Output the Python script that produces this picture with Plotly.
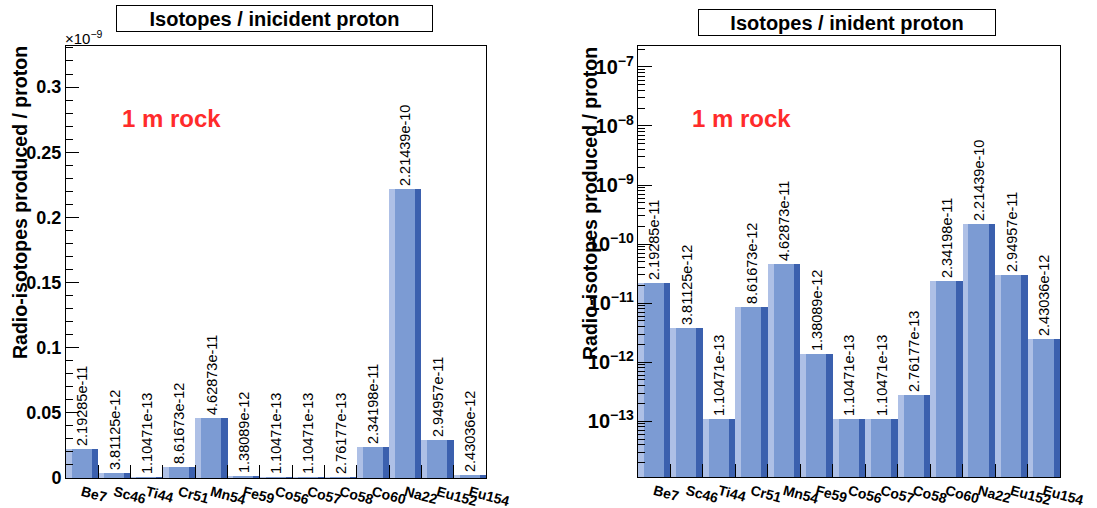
import plotly.graph_objects as go

# Isotope yields per incident proton behind 1 m of rock
isotopes = ["Be7", "Sc46", "Ti44", "Cr51", "Mn54", "Fe59", "Co56",
            "Co57", "Co58", "Co60", "Na22", "Eu152", "Eu154"]
yields = [2.19285e-11, 3.81125e-12, 1.10471e-13, 8.61673e-12, 4.62873e-11,
          1.38089e-12, 1.10471e-13, 1.10471e-13, 2.76177e-13, 2.34198e-11,
          2.21439e-10, 2.94957e-11, 2.43036e-12]

lin_ticks = [0, 0.05e-9, 0.1e-9, 0.15e-9, 0.2e-9, 0.25e-9, 0.3e-9]
lin_ticktext = ["0", "0.05", "0.1", "0.15", "0.2", "0.25", "0.3"]

W, H = 1097, 508
FONT = "Liberation Sans, Arial, sans-serif"
C_LIGHT, C_MID, C_DARK = "#aec0e6", "#7c9bd3", "#3b60ae"

labels = [f"{v:.6g}" for v in yields]

fig = go.Figure()


def add_bars(xa, ya):
    # main body of each bin, with its value printed above it
    fig.add_trace(go.Bar(
        x=isotopes, y=yields, xaxis=xa, yaxis=ya,
        offset=-0.5, width=1.0, marker=dict(color=C_MID, line=dict(width=0), opacity=1),
        text=labels, textposition="outside", textangle=-90, constraintext="none",
        textfont=dict(family=FONT, size=14.5, color="black"), cliponaxis=False,
        hoverinfo="skip", showlegend=False))
    # highlighted left edge
    fig.add_trace(go.Bar(
        x=isotopes, y=yields, xaxis=xa, yaxis=ya,
        offset=-0.5, width=0.18, marker=dict(color=C_LIGHT, line=dict(width=0), opacity=1),
        hoverinfo="skip", showlegend=False))
    # shaded right edge
    fig.add_trace(go.Bar(
        x=isotopes, y=yields, xaxis=xa, yaxis=ya,
        offset=0.3, width=0.2, marker=dict(color=C_DARK, line=dict(width=0), opacity=1),
        hoverinfo="skip", showlegend=False))


add_bars("x", "y")
add_bars("x2", "y2")

xcommon = dict(
    type="category", categoryorder="array", categoryarray=isotopes,
    range=[-0.5, len(isotopes) - 0.5], tickson="boundaries",
    ticks="inside", ticklen=13, tickcolor="black", tickangle=15,
    tickfont=dict(family=FONT, size=14, color="black", weight="bold"),
    showline=True, linecolor="black", linewidth=1, mirror=True,
    showgrid=False, zeroline=False, fixedrange=True, automargin=False,
)

fig.update_layout(
    width=W, height=H,
    margin=dict(l=0, r=0, t=0, b=0, autoexpand=False),
    paper_bgcolor="white", plot_bgcolor="white",
    barmode="overlay", bargap=0,
    xaxis=dict(domain=[66 / W, 486 / W], anchor="y", **xcommon),
    xaxis2=dict(domain=[638 / W, 1060 / W], anchor="y2", **xcommon),
    yaxis=dict(
        domain=[30 / H, 462 / H], anchor="x",
        range=[0, 0.3315e-9], tickvals=lin_ticks, ticktext=lin_ticktext,
        ticks="inside", ticklen=13, tickcolor="black",
        minor=dict(ticks="inside", ticklen=7, dtick=0.01e-9, tick0=0, tickcolor="black"),
        tickfont=dict(family=FONT, size=18, color="black", weight="bold"),
        showline=True, linecolor="black", linewidth=1, mirror=True,
        showgrid=False, zeroline=False, fixedrange=True, automargin=False,
    ),
    yaxis2=dict(
        domain=[31 / H, 462 / H], anchor="x2",
        type="log", range=[-13.944, -6.646], dtick=1, exponentformat="power",
        ticks="inside", ticklen=14, tickcolor="black", ticklabelstandoff=0,
        minor=dict(ticks="inside", ticklen=7, dtick="D1", tickcolor="black"),
        tickfont=dict(family=FONT, size=16, color="black", weight="bold"),
        showline=True, linecolor="black", linewidth=1, mirror=True,
        showgrid=False, zeroline=False, fixedrange=True, automargin=False,
    ),
)

ann = []
# panel titles in boxes
ann.append(dict(text="<b>Isotopes / inicident proton</b>", xref="paper", yref="paper",
                x=274.5 / W, y=1 - 18.5 / H, xanchor="center", yanchor="middle",
                showarrow=False, width=315, height=25, borderpad=0,
                bordercolor="black", borderwidth=1, bgcolor="white",
                font=dict(family=FONT, size=20, color="black")))
ann.append(dict(text="<b>Isotopes / inident proton</b>", xref="paper", yref="paper",
                x=847 / W, y=1 - 22.5 / H, xanchor="center", yanchor="middle",
                showarrow=False, width=296, height=25, borderpad=0,
                bordercolor="black", borderwidth=1, bgcolor="white",
                font=dict(family=FONT, size=20, color="black")))
# y-axis titles
for xc, yc in [(20, 203), (590, 204)]:
    ann.append(dict(text="<b>Radio-isotopes produced / proton</b>", xref="paper", yref="paper",
                    x=xc / W, y=1 - yc / H, xanchor="center", yanchor="middle",
                    textangle=-90, showarrow=False,
                    font=dict(family=FONT, size=19.5, color="black")))
# "1 m rock" labels
for xl in (120, 690):
    ann.append(dict(text="<b>1 m rock</b>", xref="paper", yref="paper",
                    x=xl / W, y=1 - 118 / H, xanchor="left", yanchor="middle",
                    showarrow=False, font=dict(family=FONT, size=24, color="#ff2b2b")))
# exponent marker for the linear axis
ann.append(dict(text="×10<sup>−9</sup>", xref="paper", yref="paper",
                x=63 / W, y=1 - 38 / H, xanchor="left", yanchor="middle",
                showarrow=False, font=dict(family=FONT, size=15, color="black")))

fig.update_layout(annotations=ann)

fig.write_html("out.html")
